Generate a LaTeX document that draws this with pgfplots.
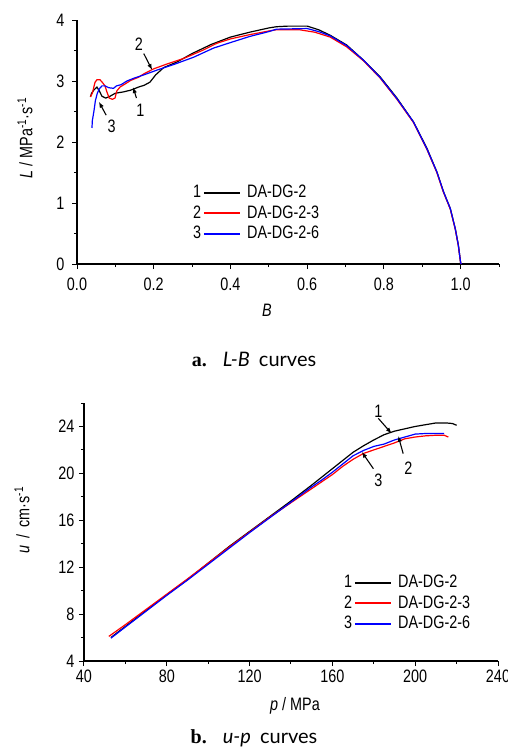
\documentclass[border=0pt]{standalone}
\usepackage{pgfplots}
\pgfplotsset{compat=1.18}
\usepackage{fontspec}
\setmainfont{Liberation Sans}[FakeStretch=0.8]
\newfontfamily\capserif{Liberation Serif}
\newfontfamily\capsans{Lato}
\usetikzlibrary{arrows.meta}
\newcommand{\fs}{\fontsize{18}{20}\selectfont}
\tikzset{ann/.style={line width=1.1pt, -{Latex[length=6pt,width=4.5pt]}}}
\pgfplotsset{
  myax/.style={
    scale only axis, axis lines=left,
    axis line style={-, line width=1.3pt},
    enlargelimits=false, tick align=outside,
    major tick length=5pt, minor tick length=3pt,
    tick style={black, line width=1pt},
    minor tick style={black, line width=1pt},
    tick label style={font=\fs},
    /pgf/number format/assume math mode=true,
    clip=false,
    legend cell align=left,
  },
  numleg/.style 2 args={legend image code/.code={%
    \node[anchor=east,inner sep=0pt,font=\fs,text=black,text height=13pt,text depth=3pt] at (0pt,0pt) {#1};
    \draw[#2,line width=1.6pt] (2pt,0pt) -- (38pt,0pt);}},
  leg/.style={legend style={draw=none, fill=none, at={#1}, anchor=north west,
    inner sep=0pt, row sep=1.5pt, column sep=5pt, font=\fs,
    nodes={inner sep=1.5pt, text height=13pt, text depth=3pt}}},
}
\begin{document}
\begin{tikzpicture}[x=1pt,y=1pt]
\path[use as bounding box] (0pt,0pt) rectangle (508pt,-748pt);
% ---------------- (a) L-B ----------------
\begin{axis}[myax, at={(77pt,-264pt)}, anchor=south west, width=422pt, height=244pt,
  xmin=0, xmax=1.1, ymin=0, ymax=4,
  xtick={0,0.2,0.4,0.6,0.8,1.0}, xticklabels={0.0,0.2,0.4,0.6,0.8,1.0},
  minor xtick={0.1,0.3,0.5,0.7,0.9,1.1},
  ytick={0,1,2,3,4}, minor ytick={0.5,1.5,2.5,3.5},
  xticklabel style={yshift=-5pt}, yticklabel style={xshift=-4pt},
  leg={(rel axis cs:0.275,0.332)}]
\addplot[black, line width=1.2pt, numleg={1}{black}] coordinates {
(0.035,2.74)(0.038,2.80)(0.045,2.86)(0.052,2.90)(0.058,2.84)(0.065,2.75)
(0.075,2.72)(0.086,2.75)(0.100,2.80)(0.120,2.82)(0.140,2.85)(0.160,2.90)
(0.175,2.93)(0.190,2.98)(0.205,3.10)(0.226,3.22)(0.260,3.31)(0.300,3.45)
(0.350,3.60)(0.400,3.72)(0.450,3.80)(0.500,3.87)(0.520,3.89)(0.550,3.90)
(0.600,3.90)(0.630,3.84)(0.660,3.75)(0.703,3.59)(0.747,3.34)(0.790,3.07)
(0.834,2.72)(0.877,2.33)(0.912,1.90)(0.938,1.51)(0.955,1.19)(0.973,0.91)
(0.986,0.58)(0.994,0.31)(1.000,0.02)(1.002,0.00)};
\addlegendentry{DA-DG-2}
\addplot[red, line width=1.2pt, numleg={2}{red}] coordinates {
(0.035,2.74)(0.040,2.80)(0.047,2.98)(0.052,3.02)(0.060,3.02)(0.067,2.97)
(0.073,2.92)(0.078,2.82)(0.084,2.72)(0.092,2.70)(0.099,2.72)(0.104,2.84)
(0.112,2.90)(0.125,2.95)(0.140,3.01)(0.160,3.06)(0.175,3.12)(0.200,3.20)
(0.235,3.28)(0.278,3.37)(0.330,3.51)(0.365,3.62)(0.400,3.69)(0.450,3.76)
(0.500,3.82)(0.520,3.84)(0.580,3.84)(0.620,3.80)(0.660,3.72)(0.703,3.56)
(0.747,3.33)(0.790,3.05)(0.834,2.70)(0.877,2.32)(0.912,1.88)(0.938,1.50)
(0.955,1.18)(0.973,0.90)(0.986,0.57)(0.994,0.30)(1.000,0.02)(1.002,0.00)};
\addlegendentry{DA-DG-2-3}
\addplot[blue, line width=1.2pt, numleg={3}{blue}] coordinates {
(0.039,2.23)(0.040,2.35)(0.044,2.50)(0.048,2.68)(0.053,2.80)(0.058,2.87)
(0.065,2.92)(0.073,2.92)(0.083,2.89)(0.095,2.88)(0.103,2.92)(0.115,2.94)
(0.130,3.00)(0.150,3.05)(0.174,3.10)(0.209,3.18)(0.252,3.27)(0.304,3.39)
(0.356,3.54)(0.400,3.63)(0.450,3.73)(0.500,3.81)(0.520,3.85)(0.600,3.86)
(0.630,3.81)(0.660,3.74)(0.703,3.58)(0.747,3.34)(0.790,3.06)(0.834,2.71)
(0.877,2.33)(0.912,1.89)(0.938,1.51)(0.955,1.19)(0.973,0.91)(0.986,0.58)
(0.994,0.31)(1.000,0.02)(1.002,0.00)};
\addlegendentry{DA-DG-2-6}
\draw[ann] (axis cs:0.174,3.45) -- (axis cs:0.196,3.18);
\node[font=\fs] at (axis cs:0.161,3.60) {2};
\draw[ann] (axis cs:0.155,2.72) -- (axis cs:0.146,2.90);
\node[font=\fs] at (axis cs:0.165,2.52) {1};
\draw[ann] (axis cs:0.076,2.44) -- (axis cs:0.057,2.66);
\node[font=\fs] at (axis cs:0.090,2.25) {3};
\end{axis}
\node[rotate=90, font=\fs] at (25pt,-138pt) {\textit{L} / MPa\textsuperscript{-1}·s\textsuperscript{-1}};
\node[font=\fs] at (267pt,-310pt) {\textit{B}};
\node[font=\fontsize{20}{24}\selectfont] at (254pt,-359pt) {{\capserif\bfseries a.}\hspace{16pt}{\capsans\itshape L-B}\hspace{9pt}{\capsans curves}};
% ---------------- (b) u-p ----------------
\begin{axis}[myax, at={(84pt,-661pt)}, anchor=south west, width=414pt, height=258pt,
  xmin=40, xmax=240, ymin=4, ymax=26,
  xtick={40,80,...,240}, minor xtick={60,100,...,220},
  ytick={4,8,...,24}, minor ytick={6,10,...,26},
  yticklabel style={xshift=-1pt},
  leg={(rel axis cs:0.628,0.341)}]
\addplot[black, line width=1.2pt, numleg={1}{black}] coordinates {
(53,6.0)(60,6.95)(70,8.3)(80,9.65)(90,10.95)(100,12.35)(110,13.75)(120,15.05)
(130,16.35)(140,17.65)(150,19.0)(155,19.7)(160,20.4)(165,21.1)(170,21.8)
(175,22.35)(180,22.85)(185,23.3)(190,23.6)(195,23.8)(200,24.0)(205,24.15)
(210,24.3)(215,24.3)(218,24.25)(220,24.1)};
\addlegendentry{DA-DG-2}
\addplot[red, line width=1.2pt, numleg={2}{red}] coordinates {
(52,6.1)(60,7.1)(70,8.4)(80,9.7)(90,11.0)(100,12.35)(110,13.7)(120,15.0)
(130,16.3)(140,17.5)(150,18.7)(155,19.3)(160,19.9)(165,20.6)(170,21.2)
(175,21.7)(180,22.0)(185,22.3)(190,22.6)(195,22.95)(200,23.1)(205,23.2)
(210,23.25)(214,23.25)(216,23.1)};
\addlegendentry{DA-DG-2-3}
\addplot[blue, line width=1.2pt, numleg={3}{blue}] coordinates {
(53,5.95)(60,6.9)(70,8.25)(80,9.6)(90,10.9)(100,12.25)(110,13.6)(120,14.95)
(130,16.25)(140,17.55)(150,18.85)(155,19.45)(160,20.1)(165,20.8)(170,21.5)
(175,21.95)(180,22.3)(185,22.5)(190,22.85)(195,23.1)(200,23.35)(205,23.4)
(210,23.4)(214,23.4)};
\addlegendentry{DA-DG-2-6}
\draw[ann] (axis cs:182.2,24.69) -- (axis cs:188.6,23.4);
\node[font=\fs] at (axis cs:182.2,25.3) {1};
\draw[ann] (axis cs:194.2,21.68) -- (axis cs:191.8,23.2);
\node[font=\fs] at (axis cs:196.7,20.4) {2};
\draw[ann] (axis cs:179.8,20.4) -- (axis cs:174.2,21.83);
\node[font=\fs] at (axis cs:182.2,19.4) {3};
\end{axis}
\node[rotate=90, font=\fs] at (22pt,-520pt) {\textit{u}\hspace{7pt}/\hspace{7pt}cm·s\textsuperscript{-1}};
\node[font=\fs] at (295pt,-706pt) {\textit{p} / MPa};
\node[font=\fontsize{20}{24}\selectfont] at (254pt,-738pt) {{\capserif\bfseries b.}\hspace{16pt}{\capsans\itshape u-p}\hspace{9pt}{\capsans curves}};
\end{tikzpicture}
\end{document}
